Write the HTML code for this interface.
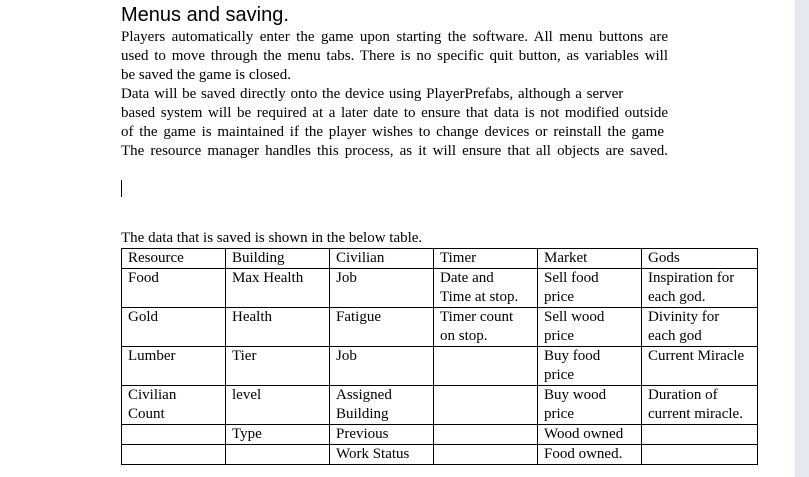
<!DOCTYPE html>
<html><head><style>
body{margin:0;width:809px;height:477px;background:#fff;position:relative;overflow:hidden;font-family:"Liberation Serif",serif;color:#000}
.g{position:absolute;left:795px;top:0;width:14px;height:477px;background:#e6eaf0}
.h{position:absolute;left:121px;top:4px;font-family:"Liberation Sans",sans-serif;font-size:20px}
.l{position:absolute;left:121px;font-size:15px;line-height:19px;white-space:nowrap}
.j{width:547px;text-align:justify;text-align-last:justify;white-space:normal}
table{position:absolute;left:121px;top:248px;border-collapse:collapse;font-size:15px;line-height:19px}
td{border:1px solid #000;padding:0 6px;vertical-align:top}
</style></head><body>
<div class="g"></div>
<div class="h">Menus and saving.</div>
<div class="l j" style="top:28px">Players automatically enter the game upon starting the software. All menu buttons are</div>
<div class="l j" style="top:47px">used to move through the menu tabs. There is no specific quit button, as variables will</div>
<div class="l" style="top:66px">be saved the game is closed.</div>
<div class="l" style="top:85px;word-spacing:1px">Data will be saved directly onto the device using PlayerPrefabs, although a server</div>
<div class="l j" style="top:104px">based system will be required at a later date to ensure that data is not modified outside</div>
<div class="l j" style="top:123px;width:543px">of the game is maintained if the player wishes to change devices or reinstall the game</div>
<div class="l j" style="top:142px">The resource manager handles this process, as it will ensure that all objects are saved.</div>
<div style="position:absolute;left:121px;top:180px;width:1px;height:17px;background:#000"></div>
<div class="l" style="top:229px">The data that is saved is shown in the below table.</div>
<table>
<tr style="height:20px"><td style="width:91px">Resource</td><td style="width:91px">Building</td><td style="width:91px">Civilian</td><td style="width:91px">Timer</td><td style="width:91px">Market</td><td style="width:103px">Gods</td></tr>
<tr style="height:39px"><td>Food</td><td>Max Health</td><td>Job</td><td>Date and<br>Time at stop.</td><td>Sell food<br>price</td><td>Inspiration for<br>each god.</td></tr>
<tr style="height:39px"><td>Gold</td><td>Health</td><td>Fatigue</td><td>Timer count<br>on stop.</td><td>Sell wood<br>price</td><td>Divinity for<br>each god</td></tr>
<tr style="height:39px"><td>Lumber</td><td>Tier</td><td>Job</td><td></td><td>Buy food<br>price</td><td>Current Miracle</td></tr>
<tr style="height:39px"><td>Civilian<br>Count</td><td>level</td><td>Assigned<br>Building</td><td></td><td>Buy wood<br>price</td><td>Duration of<br>current miracle.</td></tr>
<tr style="height:20px"><td></td><td>Type</td><td>Previous</td><td></td><td>Wood owned</td><td></td></tr>
<tr style="height:19px"><td></td><td></td><td>Work Status</td><td></td><td>Food owned.</td><td></td></tr>
</table>
</body></html>
